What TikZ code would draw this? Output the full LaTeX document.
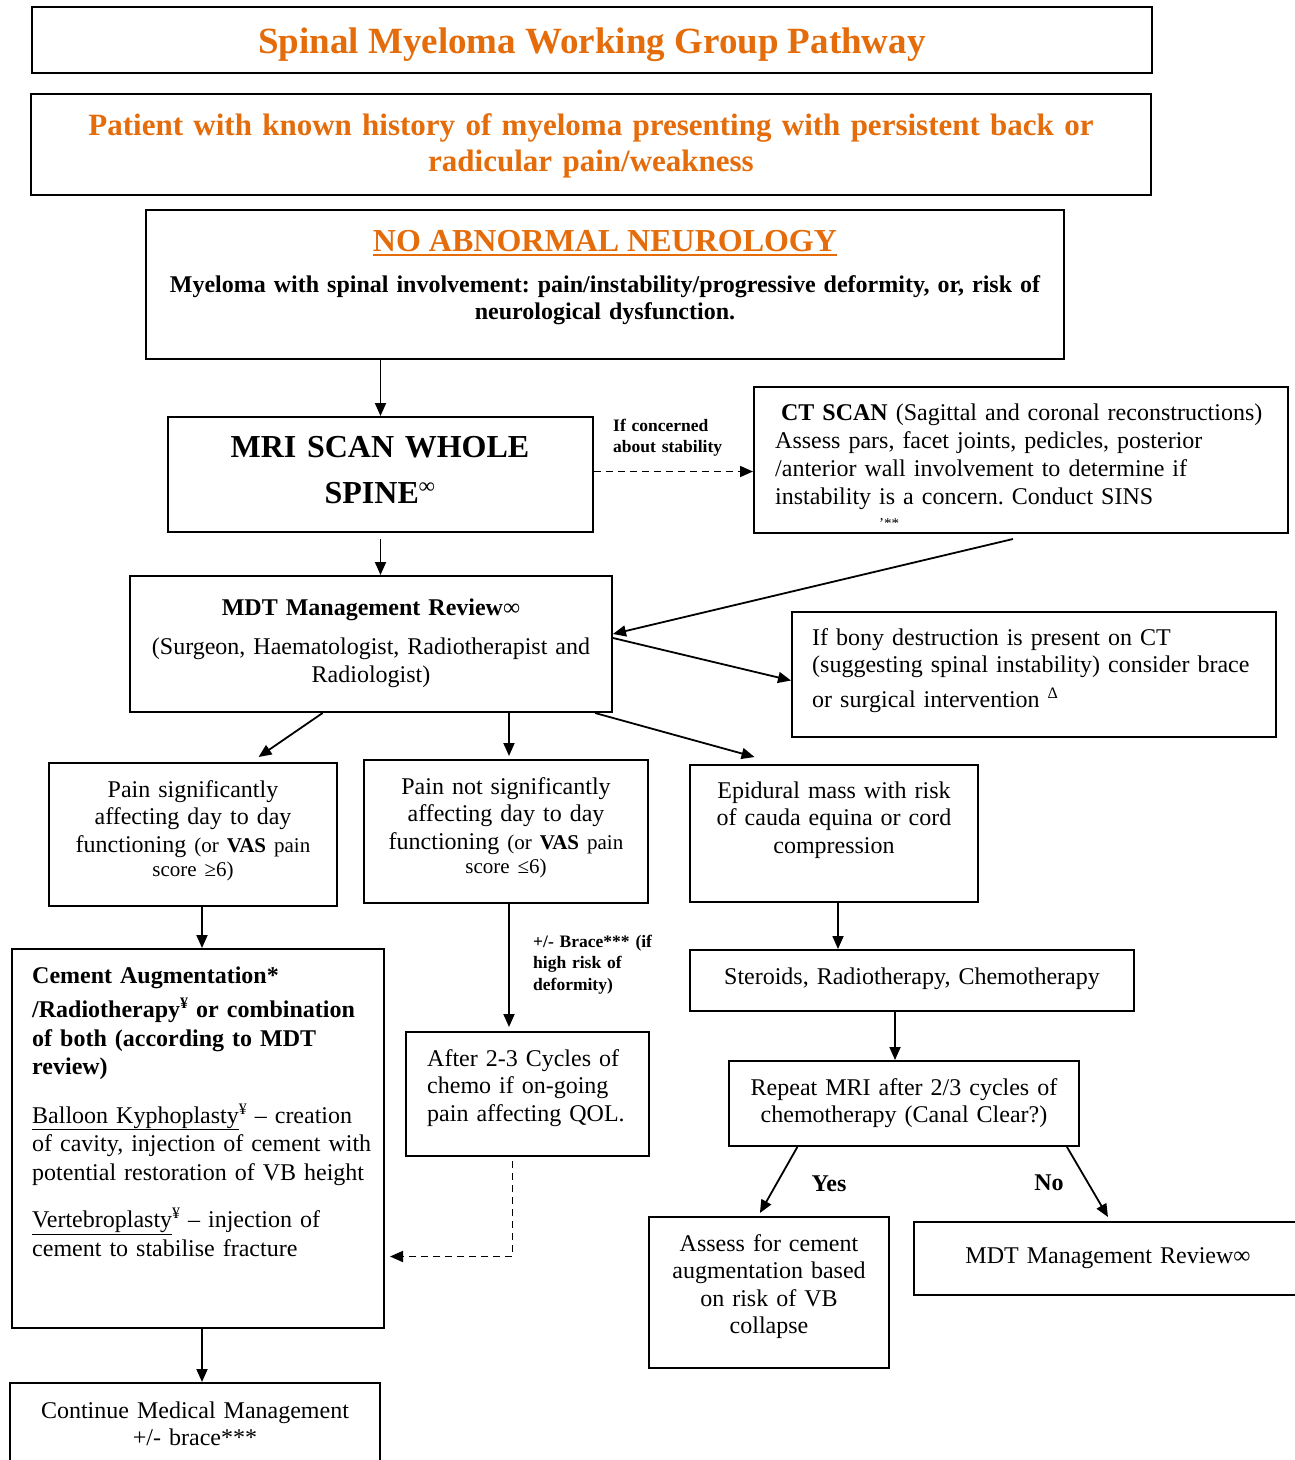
\documentclass[tikz,border=0pt]{standalone}
\usepackage{fontspec}
\setmainfont{Liberation Serif}
\usepackage{xcolor}
\definecolor{pathorange}{HTML}{E46C0A}
\usepackage{tikz}
\usetikzlibrary{arrows.meta}
\usetikzlibrary{calc}
\usetikzlibrary{fit}
\frenchspacing
\newcommand{\sizetitle}{\fontsize{37}{40}\selectfont}
\newcommand{\sizehead}{\fontsize{31}{36}\selectfont}
\newcommand{\sizebody}{\fontsize{24}{27.6}\selectfont}
\newcommand{\sizesmall}{\fontsize{21}{24}\selectfont}
\newcommand{\sizelabel}{\fontsize{17.5}{21.5}\selectfont}
\newcommand{\supmark}[1]{\raisebox{9pt}{\fontsize{16}{16}\selectfont #1}}
\tikzset{
box/.style={draw, line width=2pt, inner sep=0pt},
centre_text/.style={font=\sizebody, inner sep=0pt, anchor=base, align=center},
left_text/.style={font=\sizebody, inner sep=0pt, anchor=base west, align=left},
edge_label/.style={font=\sizelabel\bfseries, inner sep=0pt, anchor=base west, align=left, text width=150pt},
arrow/.style={-{Triangle[length=13pt,width=11pt]}, line width=1.8pt},
dashed_arrow/.style={arrow, dash pattern=on 7pt off 5pt}
}

\begin{document}
\begin{tikzpicture}[x=1pt, y=-1pt]
    \useasboundingbox (0,0) rectangle (1294,1460);
    \fill[white] (0,0) rectangle (1294,1460);

    \node[box, fit={(32,7) (1152,73)}] (title_box) {};
    \node[box, fit={(31,94) (1151,195)}] (patient_box) {};
    \node[box, fit={(146,210) (1064,359)}] (neuro_box) {};
    \node[box, fit={(168,417) (593,532)}] (mri_box) {};
    \node[box, fit={(754,387) (1288,533)}] (ct_box) {};
    \node[box, fit={(130,576) (612,712)}] (mdt_box) {};
    \node[box, fit={(792,612) (1276,737)}] (bony_box) {};
    \node[box, fit={(49,763) (337,906)}] (painsig_box) {};
    \node[box, fit={(364,760) (648,903)}] (painnot_box) {};
    \node[box, fit={(690,765) (978,902)}] (epidural_box) {};
    \node[box, fit={(12,949) (384,1328)}] (cement_box) {};
    \node[box, fit={(406,1032) (649,1156)}] (after_box) {};
    \node[box, fit={(690,950) (1134,1011)}] (steroids_box) {};
    \node[box, fit={(729,1061) (1079,1146)}] (repeat_box) {};
    \node[box, fit={(649,1217) (889,1368)}] (assess_box) {};
    \node[box, fit={(914,1222) (1302,1295)}] (review_box) {};
    \node[box, fit={(10,1383) (380,1480)}] (continue_box) {};

    \node[font=\sizetitle\bfseries, text=pathorange, inner sep=0pt, anchor=base] (title) at (592,53) {Spinal Myeloma Working Group Pathway};
    \node[centre_text, font=\sizehead\bfseries, text=pathorange, text width=1080pt] (patient) at (591,135) {Patient with known history of myeloma presenting with persistent back or\\ radicular pain/weakness};
    \node[font=\fontsize{32}{36}\selectfont\bfseries, text=pathorange, inner sep=0pt, anchor=base] (neuro_title) at (605,251) {NO ABNORMAL NEUROLOGY};
    \draw[pathorange, line width=2.5pt] ([yshift=-4pt]neuro_title.base west) -- ([yshift=-4pt]neuro_title.base east);
    \node[centre_text, font=\sizebody\bfseries, text width=900pt] (neuro_text) at (605,292) {Myeloma with spinal involvement: pain/instability/progressive deformity, or, risk of\\ neurological dysfunction.};
    \node[centre_text, font=\fontsize{32}{46}\selectfont\bfseries, text width=400pt] (mri) at (380,457) {MRI SCAN WHOLE\\ SPINE\textsuperscript{∞}};
    \node[left_text, font=\fontsize{24}{28}\selectfont, text width=493pt] (ct) at (775,420) {\makebox[\linewidth][c]{\textbf{CT SCAN} (Sagittal and coronal reconstructions)}\\ Assess pars, facet joints, pedicles, posterior\\ /anterior wall involvement to determine if\\ instability is a concern. Conduct SINS};
    \begin{scope}
        \clip (ct_box.north west) rectangle ($(ct_box.south east)+(0,-12)$);
        \node[font=\fontsize{15}{15}\selectfont, inner sep=0pt, anchor=base] (ct_cut) at (889,528) {’**};
    \end{scope}
    \node[centre_text, text width=470pt] (mdt) at (371,615) {\textbf{MDT Management Review}∞\\[12pt] (Surgeon, Haematologist, Radiotherapist and\\ Radiologist)};
    \node[left_text, text width=460pt] (bony) at (812,645) {If bony destruction is present on CT\\ (suggesting spinal instability) consider brace\\[7pt] or surgical intervention \supmark{Δ}};
    \node[centre_text, text width=280pt] (painsig) at (193,797) {Pain significantly\\ affecting day to day\\ functioning {\sizesmall (or \textbf{VAS} pain}\\[-3pt] {\sizesmall score ≥6)}};
    \node[centre_text, text width=280pt] (painnot) at (506,794) {Pain not significantly\\ affecting day to day\\ functioning {\sizesmall (or \textbf{VAS} pain}\\[-3pt] {\sizesmall score ≤6)}};
    \node[centre_text, text width=280pt] (epidural) at (834,798) {Epidural mass with risk\\ of cauda equina or cord\\ compression};
    \node[left_text, font=\fontsize{24}{28.5}\selectfont, text width=350pt] (cement) at (32,983) {\textbf{Cement Augmentation*}\\[6pt]
        \textbf{/Radiotherapy\supmark{¥} or combination}\\
        \textbf{of both (according to MDT}\\
        \textbf{review)}\\[20pt]
        \underline{Balloon Kyphoplasty}\supmark{¥} – creation\\
        of cavity, injection of cement with\\
        potential restoration of VB height\\[19pt]
        \underline{Vertebroplasty}\supmark{¥} – injection of\\
        cement to stabilise fracture};
    \node[left_text, text width=215pt] (after) at (427,1066) {After 2-3 Cycles of\\ chemo if on-going\\ pain affecting QOL.};
    \node[centre_text, text width=430pt] (steroids) at (912,984) {Steroids, Radiotherapy, Chemotherapy};
    \node[centre_text, text width=340pt] (repeat) at (904,1095) {Repeat MRI after 2/3 cycles of\\ chemotherapy (Canal Clear?)};
    \node[centre_text, text width=230pt] (assess) at (769,1251) {Assess for cement\\ augmentation based\\ on risk of VB\\ collapse};
    \node[centre_text, text width=370pt] (review) at (1108,1263) {MDT Management Review∞};
    \node[centre_text, text width=360pt] (continue) at (195,1418) {Continue Medical Management\\ +/- brace***};

    \node[edge_label] (stability_label) at (613,431) {If concerned\\ about stability};
    \node[edge_label] (brace_label) at (533,947) {+/- Brace*** (if\\ high risk of\\ deformity)};
    \node[font=\sizebody\bfseries, inner sep=0pt, anchor=base] (yes_label) at (829,1191) {Yes};
    \node[font=\sizebody\bfseries, inner sep=0pt, anchor=base] (no_label) at (1049,1190) {No};

    \coordinate (ct_tail) at ($(ct_box.south west)!0.485!(ct_box.south east)+(0,5)$);
    \coordinate (mdt_left_tail) at ($(mdt_box.south west)!0.4!(mdt_box.south east)$);
    \coordinate (mdt_right_tail) at ($(mdt_box.south west)!0.963!(mdt_box.south east)$);
    \coordinate (painsig_tip) at ($(painsig_box.north west)!0.726!(painsig_box.north east)+(0,-5)$);
    \coordinate (epidural_tip) at ($(epidural_box.north west)!0.226!(epidural_box.north east)+(0,-7)$);
    \coordinate (repeat_left_tail) at ($(repeat_box.south west)!0.197!(repeat_box.south east)$);
    \coordinate (repeat_right_tail) at ($(repeat_box.south west)!0.963!(repeat_box.south east)$);
    \coordinate (assess_tip) at ($(assess_box.north west)!0.4625!(assess_box.north east)+(0,-3)$);

    \draw[arrow] (mri_box.north |- neuro_box.south) -- (mri_box.north);
    \draw[arrow, shorten <=6pt] (mri_box.south) -- (mri_box.south |- mdt_box.north);
    \draw[dashed_arrow] ([yshift=3pt]mri_box.east) -- ([yshift=3pt]mri_box.east -| ct_box.west);
    \draw[arrow] (ct_tail) -- ([yshift=10pt]mdt_box.east);
    \draw[arrow] ([yshift=6pt]mdt_box.east) -- ([yshift=-6pt]bony_box.west);
    \draw[arrow] (mdt_left_tail) -- (painsig_tip);
    \draw[arrow] ([xshift=3pt]painnot_box.north |- mdt_box.south) -- ([xshift=3pt, yshift=3pt]painnot_box.north);
    \draw[arrow] (mdt_right_tail) -- (epidural_tip);
    \draw[arrow] ([xshift=9pt]painsig_box.south) -- ([xshift=9pt]painsig_box.south |- cement_box.north);
    \draw[arrow, shorten >=4pt] ([xshift=3pt]painnot_box.south) -- ([xshift=3pt]painnot_box.south |- after_box.north);
    \draw[dashed_arrow] ([xshift=-15pt, yshift=-4pt]after_box.south) |- ([xshift=5pt, yshift=-118pt]cement_box.east);
    \draw[arrow] ([xshift=4pt]epidural_box.south) -- ([xshift=4pt]epidural_box.south |- steroids_box.north);
    \draw[arrow] ([xshift=-9pt]repeat_box.north |- steroids_box.south) -- ([xshift=-9pt]repeat_box.north);
    \draw[arrow] (repeat_left_tail) -- (assess_tip);
    \draw[arrow] (repeat_right_tail) -- ([yshift=4pt]review_box.north);
    \draw[arrow] ([xshift=4pt]cement_box.south) -- ([xshift=4pt]cement_box.south |- continue_box.north);
\end{tikzpicture}
\end{document}
